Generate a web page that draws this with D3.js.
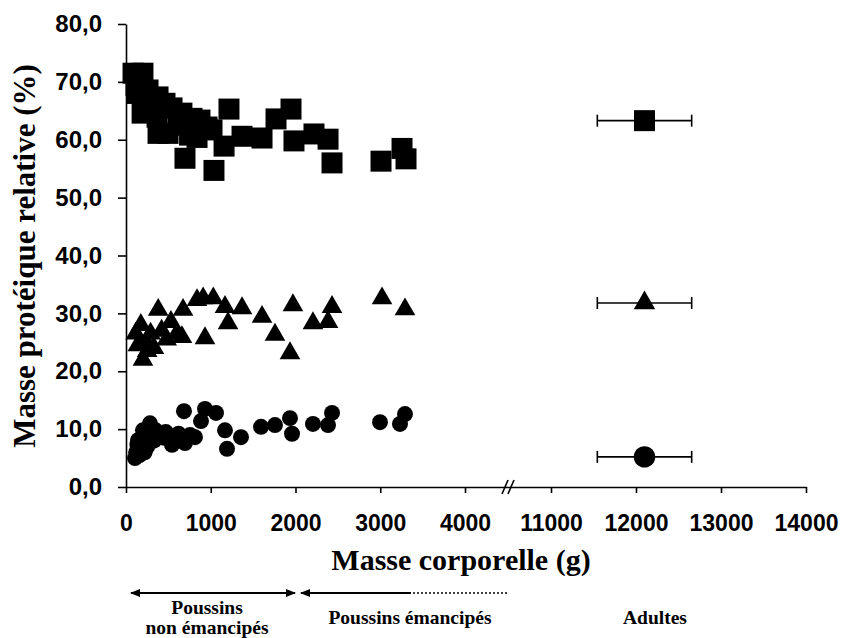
<!DOCTYPE html>
<html><head><meta charset="utf-8">
<script src="https://cdn.jsdelivr.net/npm/d3@7"></script>
<style>
html,body{margin:0;padding:0;background:#fff;}
svg{display:block;}
</style></head>
<body>
<svg id="chart" width="846" height="638"></svg>
<script>
// ---- data ----
const squareMass = [83,200,118,260,130,378,224,460,543,190,366,378,496,660,779,873,956,838,696,1038,1157,1215,1369,1605,1770,1947,1982,2218,2384,2431,3009,3257,3304,1015,614,750];
const squareProt = [71.5,71.5,69.4,68.6,68.0,67.4,66.0,66.3,65.5,64.6,63.9,61.1,61.1,64.6,63.7,63.4,62.2,60.4,56.8,54.7,58.9,65.3,60.6,60.3,63.6,65.3,59.8,61.0,60.1,56.0,56.3,58.5,56.7,61.7,62.5,60.8];

const triMass = [380,673,838,910,1030,1168,1369,1605,1970,2206,1204,1758,1935,932,660,115,140,200,175,240,290,330,420,480,530,600,250,2431,2384,3021,3292];
const triProt = [30.6,30.6,32.3,32.6,32.6,31.1,30.9,29.4,31.4,28.3,28.3,26.3,23.1,25.7,25.9,26.5,24.5,22.0,28.0,25.0,26.5,24.0,27.0,25.5,28.5,26.5,23.5,31.1,28.5,32.6,30.7];

const circMass = [684,932,1062,885,1168,1192,1357,1593,1758,1935,1959,2206,2384,2431,2997,3233,3292,106,160,142,200,283,134,400,580,755,543,696,814,250,330,220,470,180,120,260,350,620,450];
const circProt = [13.1,13.5,12.8,11.4,9.8,6.6,8.6,10.4,10.7,11.9,9.2,10.9,10.7,12.8,11.2,10.9,12.6,5.0,5.5,8.1,9.8,11.0,7.3,9.0,8.6,9.0,7.3,7.6,8.6,7.0,8.0,6.0,9.5,6.5,6.0,9.5,9.8,9.2,8.5];

// adults (mean ± sd of body mass)
const adultSeries = ["square","triangle","circle"];
const adultMass = [12100,12100,12100];
const adultMassErr = [555,555,555];
const adultProt = [63.3,31.8,5.2];

const xTickValues = [0,1000,2000,3000,4000,11000,12000,13000,14000];
const xTickLabels = ["0","1000","2000","3000","4000","11000","12000","13000","14000"];
const yTickValues = [0,10,20,30,40,50,60,70,80];
const yTickLabels = ["0,0","10,0","20,0","30,0","40,0","50,0","60,0","70,0","80,0"];

const xTitle = "Masse corporelle (g)";
const yTitle = "Masse protéique relative (%)";
const groupLabels = [["Poussins","non émancipés"],["Poussins émancipés"],["Adultes"]];

// ---- layout ----
const svg = d3.select("#chart");
const x = d3.scaleLinear().domain([0,4000,11000,14000]).range([126,465,551,806]);
const y = d3.scaleLinear().domain([0,80]).range([487,24]);

const fontSans = "'Liberation Sans', Arial, sans-serif";
const fontSerif = "'Liberation Serif', 'Times New Roman', serif";

// axes
const xAxis = d3.axisBottom(x).tickValues(xTickValues)
  .tickFormat((d,i)=>xTickLabels[i]).tickSize(6).tickSizeOuter(0).tickPadding(22);
const yAxis = d3.axisLeft(y).tickValues(yTickValues)
  .tickFormat((d,i)=>yTickLabels[i]).tickSize(8).tickSizeOuter(0).tickPadding(16);

const gx = svg.append("g").attr("transform","translate(0,487)").call(xAxis);
const gy = svg.append("g").attr("transform","translate(126,0)").call(yAxis);
[gx,gy].forEach(g=>{
  g.selectAll("path,line").attr("stroke","#000").attr("stroke-width",1.6);
  g.selectAll("text").attr("fill","#000")
    .style("font-family",fontSans).style("font-weight","bold").style("font-size","24px");
});
gx.selectAll("text").style("font-size","23px");

// axis break mark
const bx = (x(4000)+x(11000))/2;
[-3,3].forEach(o=>{
  svg.append("line").attr("x1",bx+o-3).attr("y1",494).attr("x2",bx+o+3).attr("y2",480)
    .attr("stroke","#000").attr("stroke-width",1.6);
});

// titles
svg.append("text").attr("x",461).attr("y",570).attr("text-anchor","middle")
  .style("font-family",fontSerif).style("font-weight","bold").style("font-size","30px")
  .text(xTitle);
svg.append("text").attr("transform","translate(35,256) rotate(-90)").attr("text-anchor","middle")
  .style("font-family",fontSerif).style("font-weight","bold").style("font-size","31px")
  .text(yTitle);

// markers
const sq = d3.symbol().type(d3.symbolSquare).size(441);
const tri = d3.symbol().type(d3.symbolTriangle).size(185);
const circ = d3.symbol().type(d3.symbolCircle).size(200);
const symForAdult = {
  square: d3.symbol().type(d3.symbolSquare).size(441),
  triangle: d3.symbol().type(d3.symbolTriangle).size(200),
  circle: d3.symbol().type(d3.symbolCircle).size(360)
};

const plot = svg.append("g");
plot.selectAll(".sq").data(squareMass.map((m,i)=>[m,squareProt[i]])).join("path")
  .attr("d",sq()).attr("transform",d=>`translate(${x(d[0])},${y(d[1])})`).attr("fill","#000");
plot.selectAll(".tr").data(triMass.map((m,i)=>[m,triProt[i]])).join("path")
  .attr("d",tri()).attr("transform",d=>`translate(${x(d[0])},${y(d[1])})`).attr("fill","#000");
plot.selectAll(".ci").data(circMass.map((m,i)=>[m,circProt[i]])).join("path")
  .attr("d",circ()).attr("transform",d=>`translate(${x(d[0])},${y(d[1])})`).attr("fill","#000");

// adults with error bars
adultSeries.forEach((s,i)=>{
  const cy = y(adultProt[i]);
  const x0 = x(adultMass[i]-adultMassErr[i]), x1 = x(adultMass[i]+adultMassErr[i]);
  const g = svg.append("g");
  g.append("line").attr("x1",x0).attr("x2",x1).attr("y1",cy).attr("y2",cy).attr("stroke","#000").attr("stroke-width",1.6);
  [x0,x1].forEach(xx=>g.append("line").attr("x1",xx).attr("x2",xx).attr("y1",cy-6).attr("y2",cy+6).attr("stroke","#000").attr("stroke-width",1.6));
  g.append("path").attr("d",symForAdult[s]()).attr("transform",`translate(${x(adultMass[i])},${cy})`).attr("fill","#000");
});

// group arrows under the axis
const ay = 593;
function arrowHead(xp, dir){ // dir: -1 points left, +1 points right
  svg.append("path").attr("d",`M${xp},${ay} L${xp-dir*10},${ay-4} L${xp-dir*10},${ay+4} Z`).attr("fill","#000");
}
svg.append("line").attr("x1",131).attr("x2",295).attr("y1",ay).attr("y2",ay).attr("stroke","#000").attr("stroke-width",1.8);
arrowHead(130,-1); arrowHead(296,1);
svg.append("line").attr("x1",301).attr("x2",411).attr("y1",ay).attr("y2",ay).attr("stroke","#000").attr("stroke-width",1.8);
arrowHead(300,-1);
svg.append("line").attr("x1",413).attr("x2",508).attr("y1",ay).attr("y2",ay).attr("stroke","#000").attr("stroke-width",1.4).attr("stroke-dasharray","2,2");

// group labels
const lblX = [207,410,655];
const lblY = [[614,634],[624],[624]];
groupLabels.forEach((lines,i)=>{
  lines.forEach((t,j)=>{
    svg.append("text").attr("x",lblX[i]).attr("y",lblY[i][j]).attr("text-anchor","middle")
      .style("font-family",fontSerif).style("font-weight","bold").style("font-size","19.5px").text(t);
  });
});
</script>
</body></html>
